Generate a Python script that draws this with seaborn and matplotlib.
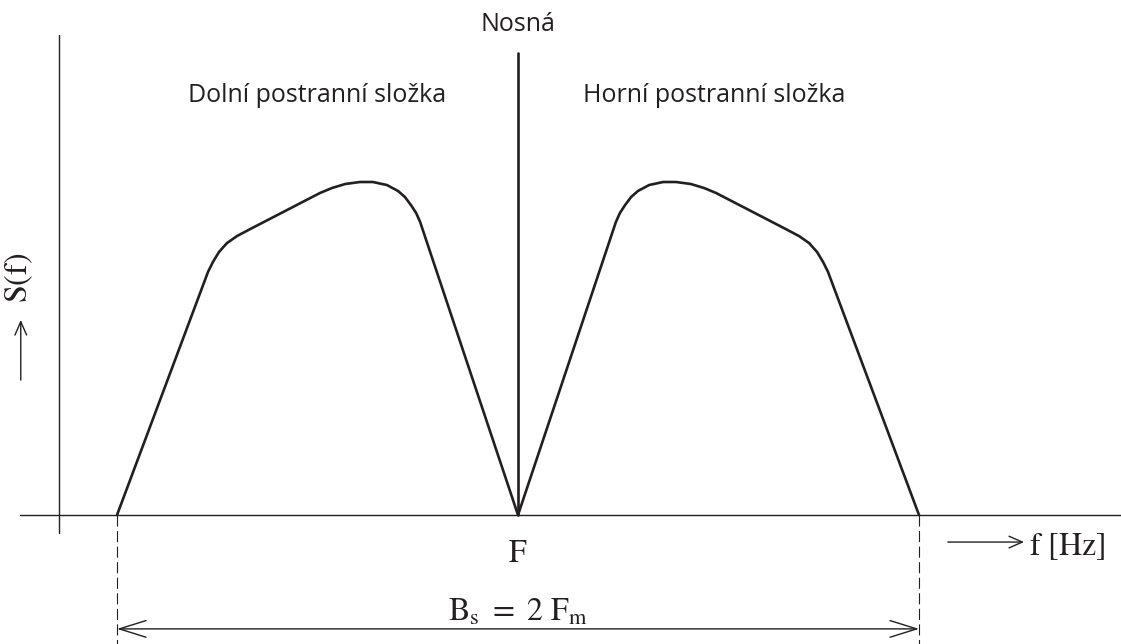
import numpy as np
import pandas as pd
import matplotlib
matplotlib.use("Agg")
import matplotlib.pyplot as plt
import seaborn as sns

# lower sideband shape, f relative to carrier (in units of Fm), S normalised to peak
lobe_f = [-1.000, -0.773, -0.761, -0.746, -0.726, -0.701, -0.668, -0.494, -0.464,
          -0.431, -0.394, -0.362, -0.327, -0.299, -0.282, -0.267, -0.254, -0.244, 0.0]
lobe_s = [0.000, 0.728, 0.757, 0.787, 0.814, 0.835, 0.856, 0.964, 0.979,
          0.991, 0.997, 0.997, 0.988, 0.970, 0.952, 0.928, 0.904, 0.877, 0.0]
carrier_f = [0.0, 0.0]
carrier_s = [0.0, 1.383]
band_edges = [-1.0, 1.0]

labels = {
    "carrier": "Nosná",
    "lower": "Dolní postranní složka",
    "upper": "Horní postranní složka",
}

# upper sideband is the mirror image of the lower one
df = pd.concat([
    pd.DataFrame({"f": lobe_f, "S": lobe_s, "side": "lower"}),
    pd.DataFrame({"f": [-v for v in lobe_f][::-1], "S": lobe_s[::-1], "side": "upper"}),
])

sns.set_theme(style="white")
plt.rcParams["mathtext.fontset"] = "stix"
ink = "#231f20"

fig = plt.figure(figsize=(11.21, 6.44), dpi=100)
ax = fig.add_axes([0, 0, 1, 1])
ax.set_xlim(-1.2918, 1.5037)
ax.set_ylim(-0.3862, 1.5419)
ax.axis("off")

# axes of the diagram
ax.plot([-1.242, 1.504], [0, 0], color=ink, lw=1.0, zorder=1)
ax.plot([-1.1446, -1.1446], [-0.054, 1.437], color=ink, lw=1.0, zorder=1)

for side, grp in df.groupby("side"):
    sns.lineplot(data=grp, x="f", y="S", sort=False, estimator=None, color=ink,
                 lw=1.9, ax=ax, zorder=3, legend=False)
sns.lineplot(x=carrier_f, y=carrier_s, sort=False, estimator=None, color=ink,
             lw=1.9, ax=ax, zorder=3)

for e in band_edges:
    ax.plot([e, e], [0, -0.386], color=ink, lw=0.8, ls=(0, (10, 4)), zorder=1)

ax.annotate("", xy=(band_edges[0], -0.341), xytext=(band_edges[1], -0.341),
            arrowprops=dict(arrowstyle="<->,head_length=1.6,head_width=0.5",
                            color=ink, lw=1.0, shrinkA=0, shrinkB=0))

sans = "Open Sans"
ax.text(0, 1.470, labels["carrier"], ha="center", va="center",
        fontsize=18, family=sans, color=ink)
ax.text(-0.501, 1.257, labels["lower"], ha="center", va="center",
        fontsize=18, family=sans, color=ink)
ax.text(0.489, 1.257, labels["upper"], ha="center", va="center",
        fontsize=18, family=sans, color=ink)

ax.text(0, -0.114, r"$\mathrm{F}$", ha="center", va="center", fontsize=23, color=ink)
ax.text(0, -0.290, r"$\mathrm{B_s\ =\ 2\ F_m}$", ha="center", va="center",
        fontsize=23, color=ink)

# axis captions with long arrows
ax.annotate("", xy=(1.262, -0.081), xytext=(1.072, -0.081),
            arrowprops=dict(arrowstyle="->,head_length=0.8,head_width=0.35",
                            color=ink, lw=1.0, shrinkA=0, shrinkB=0))
ax.text(1.274, -0.093, r"$\mathrm{f\ [Hz]}$", ha="left", va="center",
        fontsize=23, color=ink)
ax.annotate("", xy=(-1.240, 0.584), xytext=(-1.240, 0.404),
            arrowprops=dict(arrowstyle="->,head_length=0.8,head_width=0.35",
                            color=ink, lw=1.0, shrinkA=0, shrinkB=0))
ax.text(-1.246, 0.710, r"$\mathrm{S(f)}$", ha="center", va="center",
        rotation=90, fontsize=23, color=ink)

fig.savefig("out.png", dpi=100, facecolor="white")
